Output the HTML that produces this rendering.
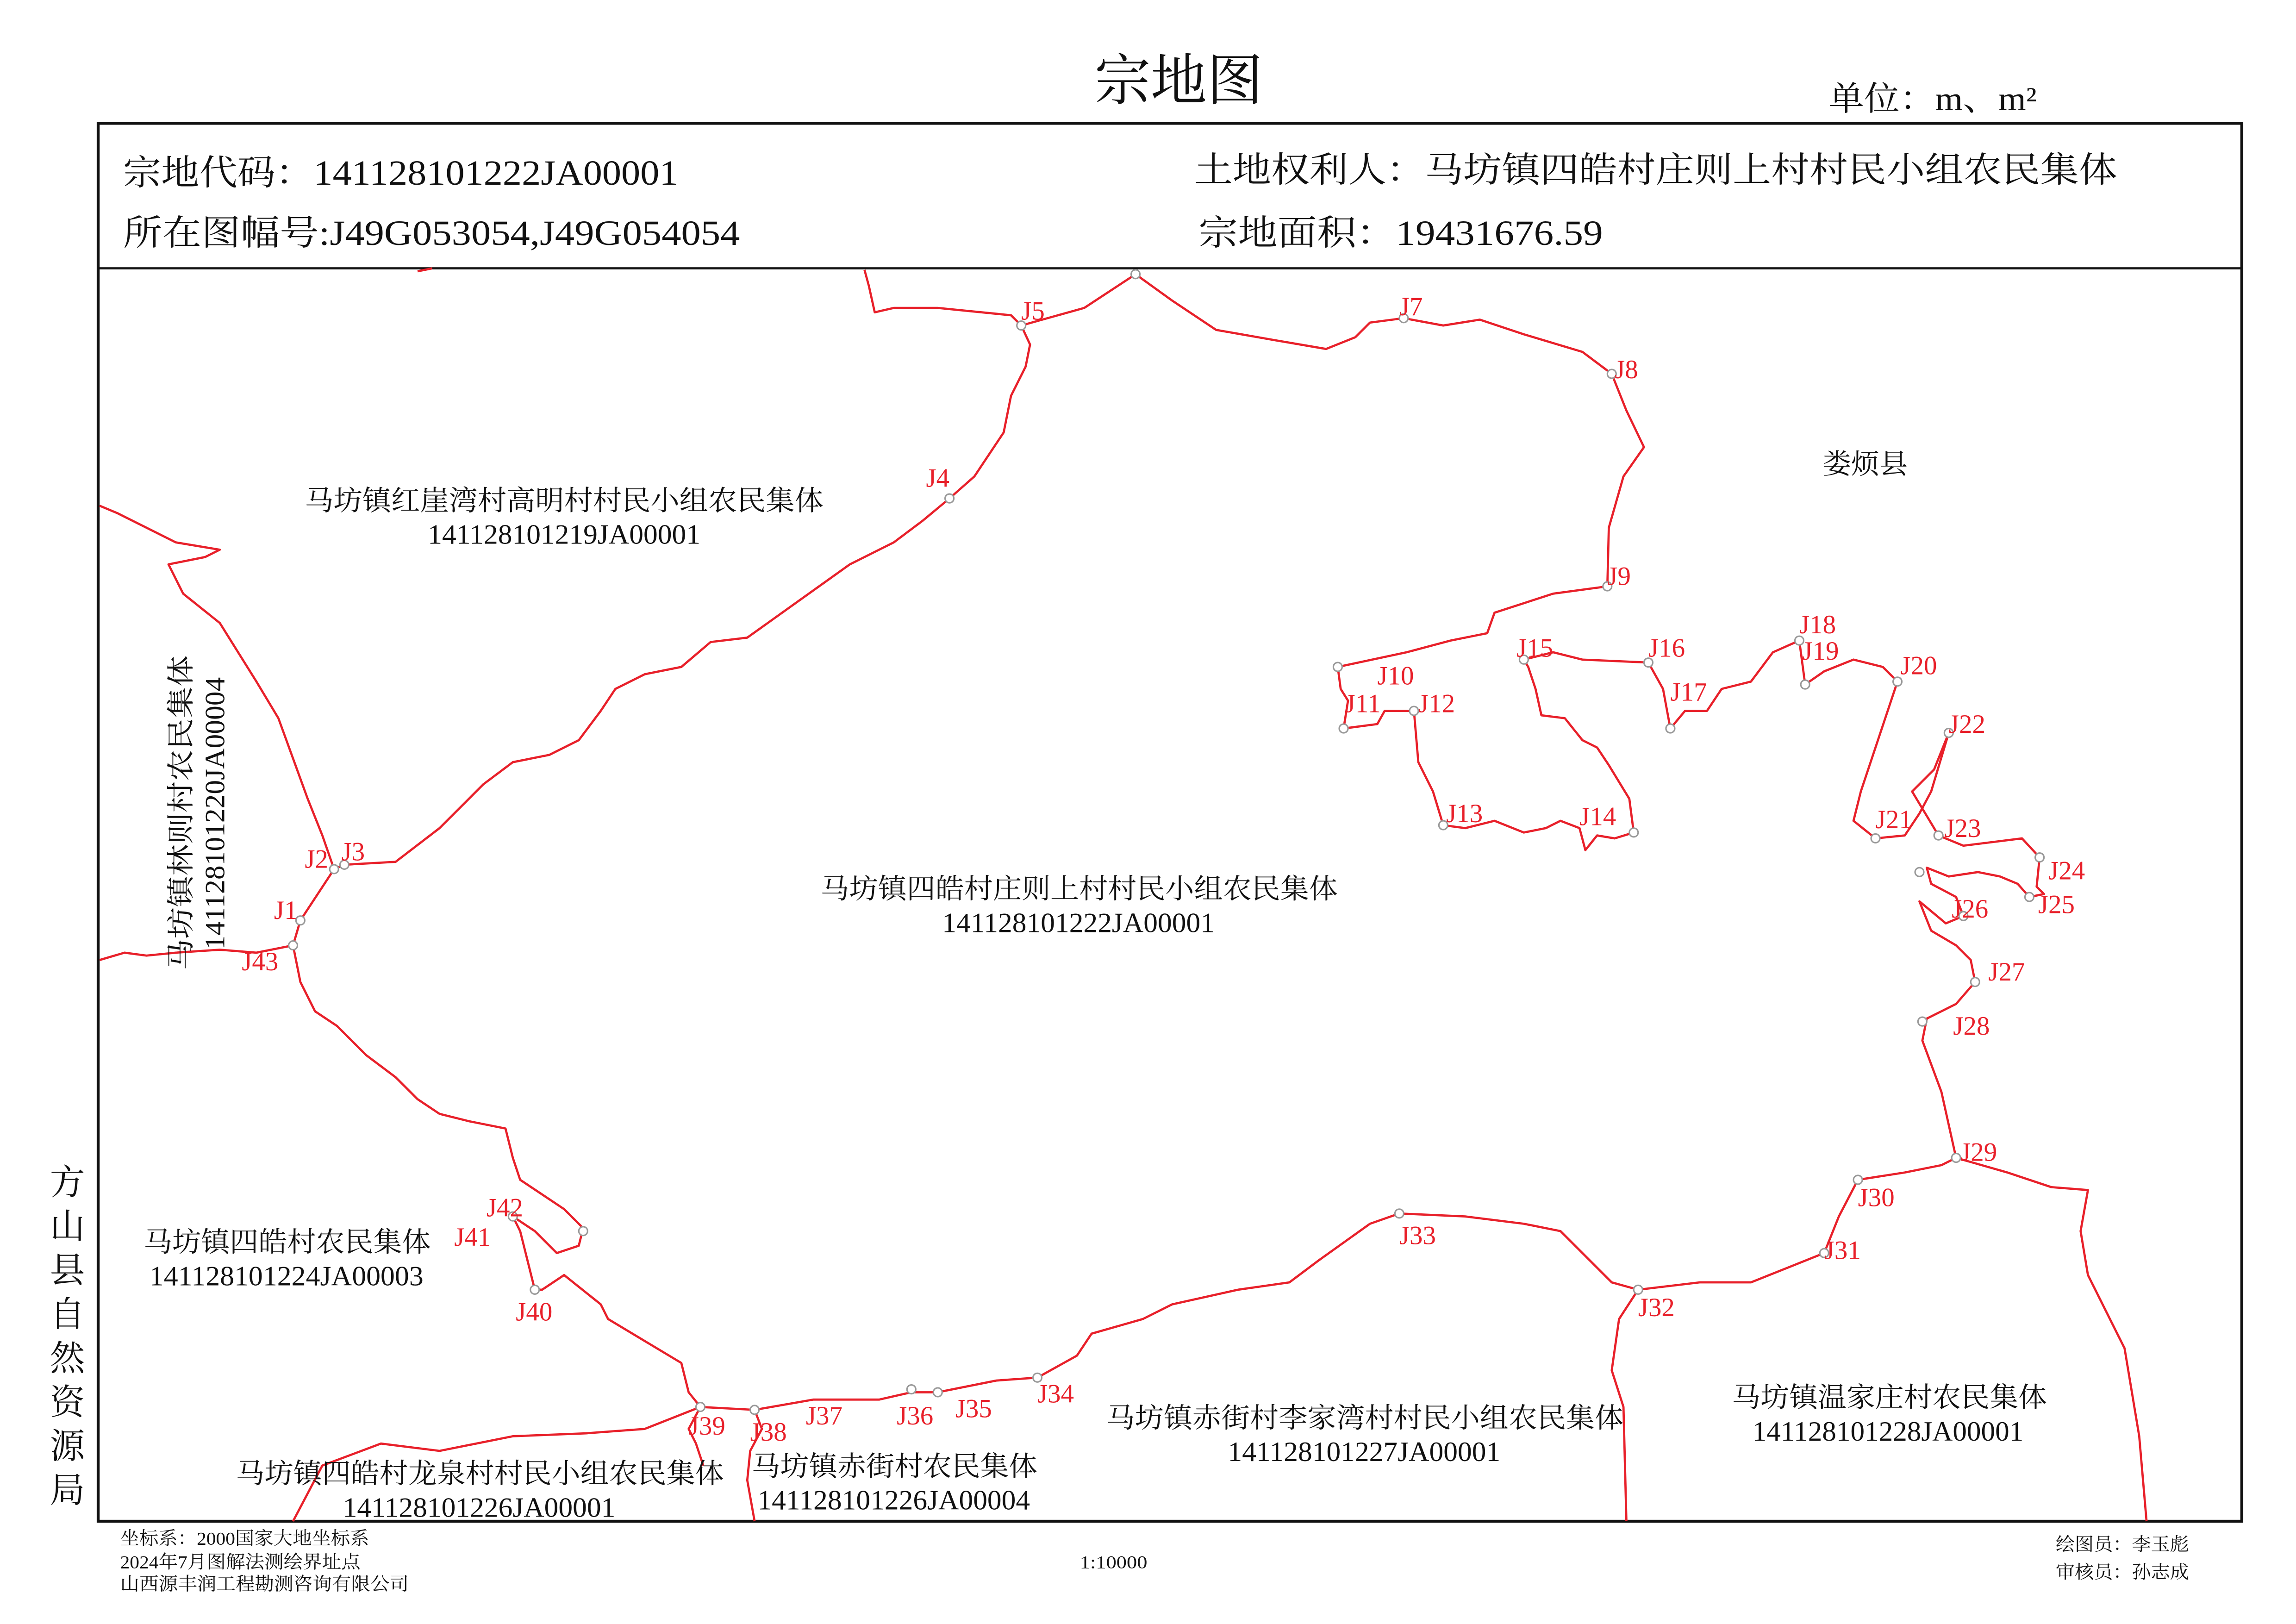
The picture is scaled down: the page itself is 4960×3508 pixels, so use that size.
<!DOCTYPE html>
<html><head><meta charset="utf-8"><style>
html,body{margin:0;padding:0;background:#fff}
svg{display:block}
text{font-family:"Liberation Serif","Noto Serif CJK SC",serif}
.r{fill:#e8202a;font-size:18px}
.b{fill:#111;font-size:19px}
</style></head><body>
<svg width="4960" height="3508" viewBox="0 0 1567 1108" xmlns="http://www.w3.org/2000/svg">
<rect width="1567" height="1108" fill="#fff"/>
<text x="747" y="68" font-size="38" textLength="115" lengthAdjust="spacingAndGlyphs" fill="#111">宗地图</text>
<text x="1248" y="75" font-size="23" textLength="142" lengthAdjust="spacingAndGlyphs" fill="#111">单位：m、m²</text>
<rect x="67" y="84" width="1463" height="954" fill="none" stroke="#111" stroke-width="2"/>
<line x1="67" y1="183" x2="1530" y2="183" stroke="#111" stroke-width="1.5"/>
<text x="84" y="126" font-size="24" textLength="379" lengthAdjust="spacingAndGlyphs" fill="#111">宗地代码：141128101222JA00001</text>
<text x="84" y="167" font-size="24" textLength="421" lengthAdjust="spacingAndGlyphs" fill="#111">所在图幅号:J49G053054,J49G054054</text>
<text x="815" y="124" font-size="24" textLength="630" lengthAdjust="spacingAndGlyphs" fill="#111">土地权利人：马坊镇四皓村庄则上村村民小组农民集体</text>
<text x="818" y="167" font-size="24" textLength="276" lengthAdjust="spacingAndGlyphs" fill="#111">宗地面积：19431676.59</text>
<g fill="none" stroke="#e8202a" stroke-width="1.5" stroke-linejoin="round">
<polyline points="200,645 205,628 228,593 235,590 270,588 300,565 320,545 330,535 350,520 375,515 395,505 410,485 420,470 440,460 465,455 485,438 510,435 545,410 580,385 610,370 630,355 648,340 665,325 685,295 690,270 700,250 703,235 697,222 690,215 640,210 610,210 597,213 593,195 590,184"/>
<polyline points="697,222 740,210 775,187 800,205 830,225 870,232 905,238 925,230 935,220 958,217 985,222 1010,218 1040,228 1080,240 1100,255 1110,280 1122,305 1108,325 1098,360 1097,400 1060,405 1020,418 1015,432 990,437 960,445 913,455 915,470 920,478 917,497 940,494 945,485 965,485 968,520 978,540 985,563 1000,565 1020,560 1040,568 1055,565 1065,560 1078,565 1082,580 1090,570 1102,572 1115,568 1112,545 1098,522 1090,510 1080,505 1068,490 1052,488 1048,470 1043,455 1040,450 1060,445 1080,450 1125,452 1135,470 1140,497 1150,485 1165,485 1175,470 1195,465 1210,445 1228,437 1232,467 1245,458 1265,450 1285,455 1295,465 1290,480 1280,510 1270,540 1265,560 1280,572 1300,570 1310,555 1318,540 1330,500 1320,525 1305,540 1323,570 1340,577 1380,572 1392,585 1390,605 1395,610 1385,612 1377,603 1365,598 1350,595 1330,598 1315,592 1318,603 1335,612 1340,625 1328,630 1310,615 1318,635 1335,645 1345,655 1348,670 1335,685 1315,695 1312,710 1325,745 1335,790 1325,795 1300,800 1268,805 1255,830 1245,855 1220,865 1195,875 1160,875 1118,880 1100,875 1085,860 1065,840 1040,835 1000,830 955,828 935,835 900,860 880,875 845,880 800,890 780,900 745,910 735,925 708,940 680,942 640,950 622,950 600,955 555,955 515,962 478,960 470,950 465,930 440,915 415,900 410,890 385,870 370,880 365,880 360,860 355,840 350,830 365,840 380,855 395,850 398,838 385,825 370,815 355,805 350,790 345,770 320,765 300,760 285,750 270,735 250,720 230,700 215,690 205,670 200,645"/>
<polyline points="68,345 80,350 120,370 150,375 140,380 115,385 125,405 150,425 175,465 190,490 210,545 220,570 228,593"/>
<polyline points="68,655 85,650 100,652 120,650 150,648 175,650 200,645"/>
<polyline points="478,960 470,975 475,985 480,1000"/>
<polyline points="515,962 520,975 512,990 510,1010 515,1038"/>
<polyline points="200,1038 220,1000 260,985 300,990 350,980 400,978 440,975 478,960"/>
<polyline points="1118,880 1105,900 1100,935 1108,960 1110,1038"/>
<polyline points="1335,790 1370,800 1400,810 1425,812 1420,840 1425,870 1450,920 1460,980 1465,1038"/>
<polyline points="285,185 295,183"/>
</g>
<g fill="#fff" stroke="#999" stroke-width="1">
<circle cx="205" cy="628" r="3"/><circle cx="228" cy="593" r="3"/><circle cx="235" cy="590" r="3"/><circle cx="648" cy="340" r="3"/><circle cx="697" cy="222" r="3"/><circle cx="775" cy="187" r="3"/><circle cx="958" cy="217" r="3"/><circle cx="1100" cy="255" r="3"/><circle cx="1097" cy="400" r="3"/><circle cx="913" cy="455" r="3"/><circle cx="917" cy="497" r="3"/><circle cx="965" cy="485" r="3"/><circle cx="985" cy="563" r="3"/><circle cx="1115" cy="568" r="3"/><circle cx="1040" cy="450" r="3"/><circle cx="1125" cy="452" r="3"/><circle cx="1140" cy="497" r="3"/><circle cx="1228" cy="437" r="3"/><circle cx="1232" cy="467" r="3"/><circle cx="1295" cy="465" r="3"/><circle cx="1330" cy="500" r="3"/><circle cx="1280" cy="572" r="3"/><circle cx="1323" cy="570" r="3"/><circle cx="1392" cy="585" r="3"/><circle cx="1385" cy="612" r="3"/><circle cx="1310" cy="595" r="3"/><circle cx="1340" cy="625" r="3"/><circle cx="1348" cy="670" r="3"/><circle cx="1312" cy="697" r="3"/><circle cx="1335" cy="790" r="3"/><circle cx="1268" cy="805" r="3"/><circle cx="1245" cy="855" r="3"/><circle cx="1118" cy="880" r="3"/><circle cx="955" cy="828" r="3"/><circle cx="708" cy="940" r="3"/><circle cx="640" cy="950" r="3"/><circle cx="622" cy="948" r="3"/><circle cx="515" cy="962" r="3"/><circle cx="478" cy="960" r="3"/><circle cx="365" cy="880" r="3"/><circle cx="350" cy="830" r="3"/><circle cx="398" cy="840" r="3"/><circle cx="200" cy="645" r="3"/>
</g>
<g class="r">
<text x="187" y="627">J1</text><text x="208" y="592">J2</text><text x="233" y="587">J3</text><text x="632" y="332">J4</text><text x="697" y="218">J5</text><text x="955" y="215">J7</text><text x="1102" y="258">J8</text><text x="1097" y="399">J9</text><text x="940" y="467">J10</text><text x="918" y="486">J11</text><text x="968" y="486">J12</text><text x="987" y="561">J13</text><text x="1078" y="563">J14</text><text x="1035" y="448">J15</text><text x="1125" y="448">J16</text><text x="1140" y="478">J17</text><text x="1228" y="432">J18</text><text x="1230" y="450">J19</text><text x="1297" y="460">J20</text><text x="1330" y="500">J22</text><text x="1280" y="565">J21</text><text x="1327" y="571">J23</text><text x="1398" y="600">J24</text><text x="1391" y="623">J25</text><text x="1332" y="626">J26</text><text x="1357" y="669">J27</text><text x="1333" y="706">J28</text><text x="1338" y="792">J29</text><text x="1268" y="823">J30</text><text x="1245" y="859">J31</text><text x="1118" y="898">J32</text><text x="955" y="849">J33</text><text x="708" y="957">J34</text><text x="652" y="967">J35</text><text x="612" y="972">J36</text><text x="550" y="972">J37</text><text x="512" y="983">J38</text><text x="470" y="979">J39</text><text x="352" y="901">J40</text><text x="310" y="850">J41</text><text x="332" y="830">J42</text><text x="165" y="662">J43</text>
</g>
<g class="b" lengthAdjust="spacingAndGlyphs">
<text x="208" y="348" textLength="354" lengthAdjust="spacingAndGlyphs">马坊镇红崖湾村高明村村民小组农民集体</text><text x="292" y="371" textLength="186" lengthAdjust="spacingAndGlyphs">141128101219JA00001</text>
<text x="560" y="613" textLength="353" lengthAdjust="spacingAndGlyphs">马坊镇四皓村庄则上村村民小组农民集体</text><text x="643" y="636" textLength="186" lengthAdjust="spacingAndGlyphs">141128101222JA00001</text>
<text x="1244" y="323" textLength="58" lengthAdjust="spacingAndGlyphs">娄烦县</text>
<text x="98" y="854" textLength="196" lengthAdjust="spacingAndGlyphs">马坊镇四皓村农民集体</text><text x="102" y="877" textLength="187" lengthAdjust="spacingAndGlyphs">141128101224JA00003</text>
<text x="755" y="974" textLength="353" lengthAdjust="spacingAndGlyphs">马坊镇赤街村李家湾村村民小组农民集体</text><text x="838" y="997" textLength="186" lengthAdjust="spacingAndGlyphs">141128101227JA00001</text>
<text x="1182" y="960" textLength="215" lengthAdjust="spacingAndGlyphs">马坊镇温家庄村农民集体</text><text x="1196" y="983" textLength="185" lengthAdjust="spacingAndGlyphs">141128101228JA00001</text>
<text x="161" y="1012" textLength="333" lengthAdjust="spacingAndGlyphs">马坊镇四皓村龙泉村村民小组农民集体</text><text x="234" y="1035" textLength="186" lengthAdjust="spacingAndGlyphs">141128101226JA00001</text>
<text x="513" y="1007" textLength="195" lengthAdjust="spacingAndGlyphs">马坊镇赤街村农民集体</text><text x="517" y="1030" textLength="186" lengthAdjust="spacingAndGlyphs">141128101226JA00004</text>
</g>
<g class="b">
<text transform="translate(130,662) rotate(-90)" textLength="215" lengthAdjust="spacingAndGlyphs">马坊镇林则村农民集体</text>
<text transform="translate(153,648) rotate(-90)" textLength="186" lengthAdjust="spacingAndGlyphs">141128101220JA00004</text>
</g>
<g font-size="24" fill="#111" text-anchor="middle">
<text x="46" y="815">方</text><text x="46" y="845">山</text><text x="46" y="875">县</text><text x="46" y="905">自</text><text x="46" y="935">然</text><text x="46" y="965">资</text><text x="46" y="995">源</text><text x="46" y="1025">局</text>
</g>
<g font-size="12.5" fill="#111">
<text x="82" y="1054" textLength="170" lengthAdjust="spacingAndGlyphs">坐标系：2000国家大地坐标系</text>
<text x="82" y="1070" textLength="164" lengthAdjust="spacingAndGlyphs">2024年7月图解法测绘界址点</text>
<text x="82" y="1085" textLength="197" lengthAdjust="spacingAndGlyphs">山西源丰润工程勘测咨询有限公司</text>
<text x="737" y="1070" textLength="46" lengthAdjust="spacingAndGlyphs">1:10000</text>
<text x="1403" y="1058" textLength="91" lengthAdjust="spacingAndGlyphs">绘图员：李玉彪</text>
<text x="1403" y="1077" textLength="91" lengthAdjust="spacingAndGlyphs">审核员：孙志成</text>
</g>
</svg>
</body></html>
